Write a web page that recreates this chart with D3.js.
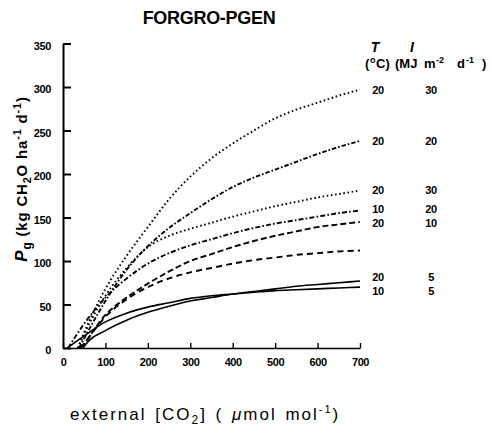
<!DOCTYPE html>
<html>
<head>
<meta charset="utf-8">
<script src="https://cdn.jsdelivr.net/npm/d3@7"></script>
<style>
  html, body { margin: 0; padding: 0; background: #fff; }
  svg { display: block; }
  text { font-family: "Liberation Sans", Arial, Helvetica, sans-serif; fill: #000; }
</style>
</head>
<body>
<svg id="chart" width="493" height="427"></svg>
<script>
// CO2 grid (µmol mol-1) shared by every simulated response curve
const co2Grid = [50, 100, 150, 200, 250, 300, 350, 400, 450, 500, 550, 600, 650, 700];

// Gross photosynthesis Pg (kg CH2O ha-1 d-1) at each grid point
const pgT20I30a = [18, 68, 106, 139, 171, 197, 218, 235, 250, 264, 274, 282, 290, 297];
const pgT20I20  = [11, 54, 90, 117, 138, 155, 171, 185, 196, 205, 214, 223, 231, 238];
const pgT20I30b = [16, 60, 92, 116, 129, 137, 144, 151, 157, 163, 168, 173, 177, 181];
const pgT10I20  = [28, 58, 80, 97, 109, 118, 125, 132, 138, 143, 147, 151, 155, 158];
const pgT20I10  = [5, 38, 58, 74, 88, 100, 108, 116, 123, 129, 134, 139, 142, 145];
const pgT20Ix   = [5, 36, 56, 70, 80, 87, 92, 97, 101, 104, 107, 109, 111, 112];
const pgT20I5   = [2, 20, 32, 41, 48, 54, 58, 62, 65, 68, 71, 73, 75, 77];
const pgT10I5   = [14, 30, 40, 47, 52, 57, 60, 62, 64, 66, 67, 68, 69, 70];

// CO2 compensation point of each curve (Pg = 0)
const compPoint = [35, 38, 35, 12, 42, 42, 48, 10];

// Temperature (°C) and irradiance (MJ m-2 d-1) written beside each curve end
const tempLabels = ["20", "20", "20", "10", "20", "", "20", "10"];
const radLabels  = ["30", "20", "30", "20", "10", "", "5", "5"];

// Axis ticks
const xTicks = [0, 100, 200, 300, 400, 500, 600, 700];
const yTicks = [0, 50, 100, 150, 200, 250, 300, 350];

const seriesValues = [pgT20I30a, pgT20I20, pgT20I30b, pgT10I20, pgT20I10, pgT20Ix, pgT20I5, pgT10I5];
const dashStyles = ["1.6,2.6", "4.5,2,1.6,2", "1.6,2.6", "5,2.2,1.6,2.2", "6,3", "6,4.2", null, null];

const svg = d3.select("#chart");

const x = d3.scaleLinear().domain([0, 700]).range([63, 360]);
const y = d3.scaleLinear().domain([0, 350]).range([348, 43.5]);

// Title
svg.append("text")
  .attr("x", 209).attr("y", 24)
  .attr("text-anchor", "middle")
  .style("font-size", "18px").style("font-weight", "bold")
  .style("letter-spacing", "-0.3px")
  .text("FORGRO-PGEN");

// Y axis, ticks pointing into the plot
const yAxis = svg.append("g")
  .attr("transform", `translate(${x(0)},0)`)
  .call(d3.axisLeft(y).tickValues(yTicks).tickSizeInner(-8).tickSizeOuter(0).tickPadding(12));
yAxis.select(".domain").attr("stroke-width", 2);
yAxis.selectAll(".tick line").attr("stroke-width", 2);
yAxis.selectAll(".tick text")
  .attr("dy", "0.5em")
  .style("font-size", "11px").style("font-weight", "bold")
  .style("letter-spacing", "-0.4px");

// X axis, ticks pointing up
const xAxis = svg.append("g")
  .attr("transform", `translate(0,${y(0)})`)
  .call(d3.axisBottom(x).tickValues(xTicks).tickSizeInner(-5).tickSizeOuter(0).tickPadding(10.5));
xAxis.select(".domain").attr("stroke-width", 1.6);
xAxis.selectAll(".tick line").attr("stroke-width", 1.4);
xAxis.selectAll(".tick text")
  .style("font-size", "11px").style("font-weight", "bold")
  .style("letter-spacing", "-0.4px");

// Response curves
const line = d3.line()
  .x(d => x(d[0]))
  .y(d => y(d[1]))
  .curve(d3.curveMonotoneX);

seriesValues.forEach((vals, i) => {
  const pts = [[compPoint[i], 0]].concat(co2Grid.map((c, j) => [c, vals[j]]));
  const path = svg.append("path")
    .datum(pts)
    .attr("d", line)
    .attr("fill", "none")
    .attr("stroke", "#000")
    .attr("stroke-width", dashStyles[i] ? 1.9 : 1.6);
  if (dashStyles[i]) path.attr("stroke-dasharray", dashStyles[i]);
});

// Curve-end labels, spread apart where ends crowd together
const ends = seriesValues
  .map((vals, i) => ({ i, py: y(vals[vals.length - 1]) }))
  .filter(d => tempLabels[d.i] !== "")
  .sort((a, b) => a.py - b.py);
const minGap = 13.5;
for (let k = 1; k < ends.length; k++) {
  const gap = ends[k].py - ends[k - 1].py;
  if (gap < minGap) {
    const shift = (minGap - gap) / 2;
    ends[k - 1].py -= shift;
    ends[k].py += shift;
  }
}
const labelG = svg.append("g")
  .style("font-size", "11px").style("font-weight", "bold")
  .style("letter-spacing", "-0.4px");
ends.forEach(d => {
  labelG.append("text").attr("x", 378).attr("y", d.py).attr("dy", "0.36em")
    .attr("text-anchor", "middle").text(tempLabels[d.i]);
  labelG.append("text").attr("x", 431).attr("y", d.py).attr("dy", "0.36em")
    .attr("text-anchor", "middle").text(radLabels[d.i]);
});

// Legend column headings
svg.append("text").attr("x", 375).attr("y", 52).attr("text-anchor", "middle")
  .style("font-size", "14px").style("font-weight", "bold").style("font-style", "italic")
  .text("T");
svg.append("text").attr("x", 412).attr("y", 52).attr("text-anchor", "middle")
  .style("font-size", "14px").style("font-weight", "bold").style("font-style", "italic")
  .text("I");

const units = svg.append("g").style("font-weight", "bold");
const unitBase = 68;
const unitParts = [
  { t: "(", x: 365, sup: false },
  { t: "o", x: 370, sup: true },
  { t: "C)", x: 376, sup: false },
  { t: "(MJ", x: 395, sup: false },
  { t: "m", x: 424, sup: false },
  { t: "-2", x: 436, sup: true },
  { t: "d", x: 457, sup: false },
  { t: "-1", x: 466, sup: true },
  { t: ")", x: 482, sup: false }
];
unitParts.forEach(p => {
  units.append("text")
    .attr("x", p.x)
    .attr("y", p.sup ? unitBase - 5 : unitBase)
    .style("font-size", p.sup ? "9px" : "13px")
    .text(p.t);
});

// Y axis title
const yTitle = svg.append("text")
  .attr("transform", "translate(27,179) rotate(-90)")
  .attr("text-anchor", "middle")
  .style("font-size", "15px").style("font-weight", "bold")
  .style("letter-spacing", "0.8px");
yTitle.append("tspan").style("font-style", "italic").style("font-size", "17px").text("P");
yTitle.append("tspan").attr("dy", 4).style("font-size", "12px").text("g");
yTitle.append("tspan").attr("dy", -4).text(" (kg CH");
yTitle.append("tspan").attr("dy", 4).style("font-size", "11px").text("2");
yTitle.append("tspan").attr("dy", -4).text("O ha");
yTitle.append("tspan").attr("dy", -6).style("font-size", "11px").text("-1");
yTitle.append("tspan").attr("dy", 6).text(" d");
yTitle.append("tspan").attr("dy", -6).style("font-size", "11px").text("-1");
yTitle.append("tspan").attr("dy", 6).text(")");

// X axis title
const xTitle = svg.append("text")
  .attr("x", 70).attr("y", 420)
  .style("font-size", "17px").style("letter-spacing", "2px")
  .style("word-spacing", "2px");
xTitle.append("tspan").text("external [CO");
xTitle.append("tspan").attr("dy", 4).style("font-size", "12px").text("2");
xTitle.append("tspan").attr("dy", -4).text("] ( ");
xTitle.append("tspan").style("font-style", "italic").text("μ");
xTitle.append("tspan").text("mol mol");
xTitle.append("tspan").attr("dy", -7).style("font-size", "11px").text("-1");
xTitle.append("tspan").attr("dy", 7).text(")");
</script>
</body>
</html>
